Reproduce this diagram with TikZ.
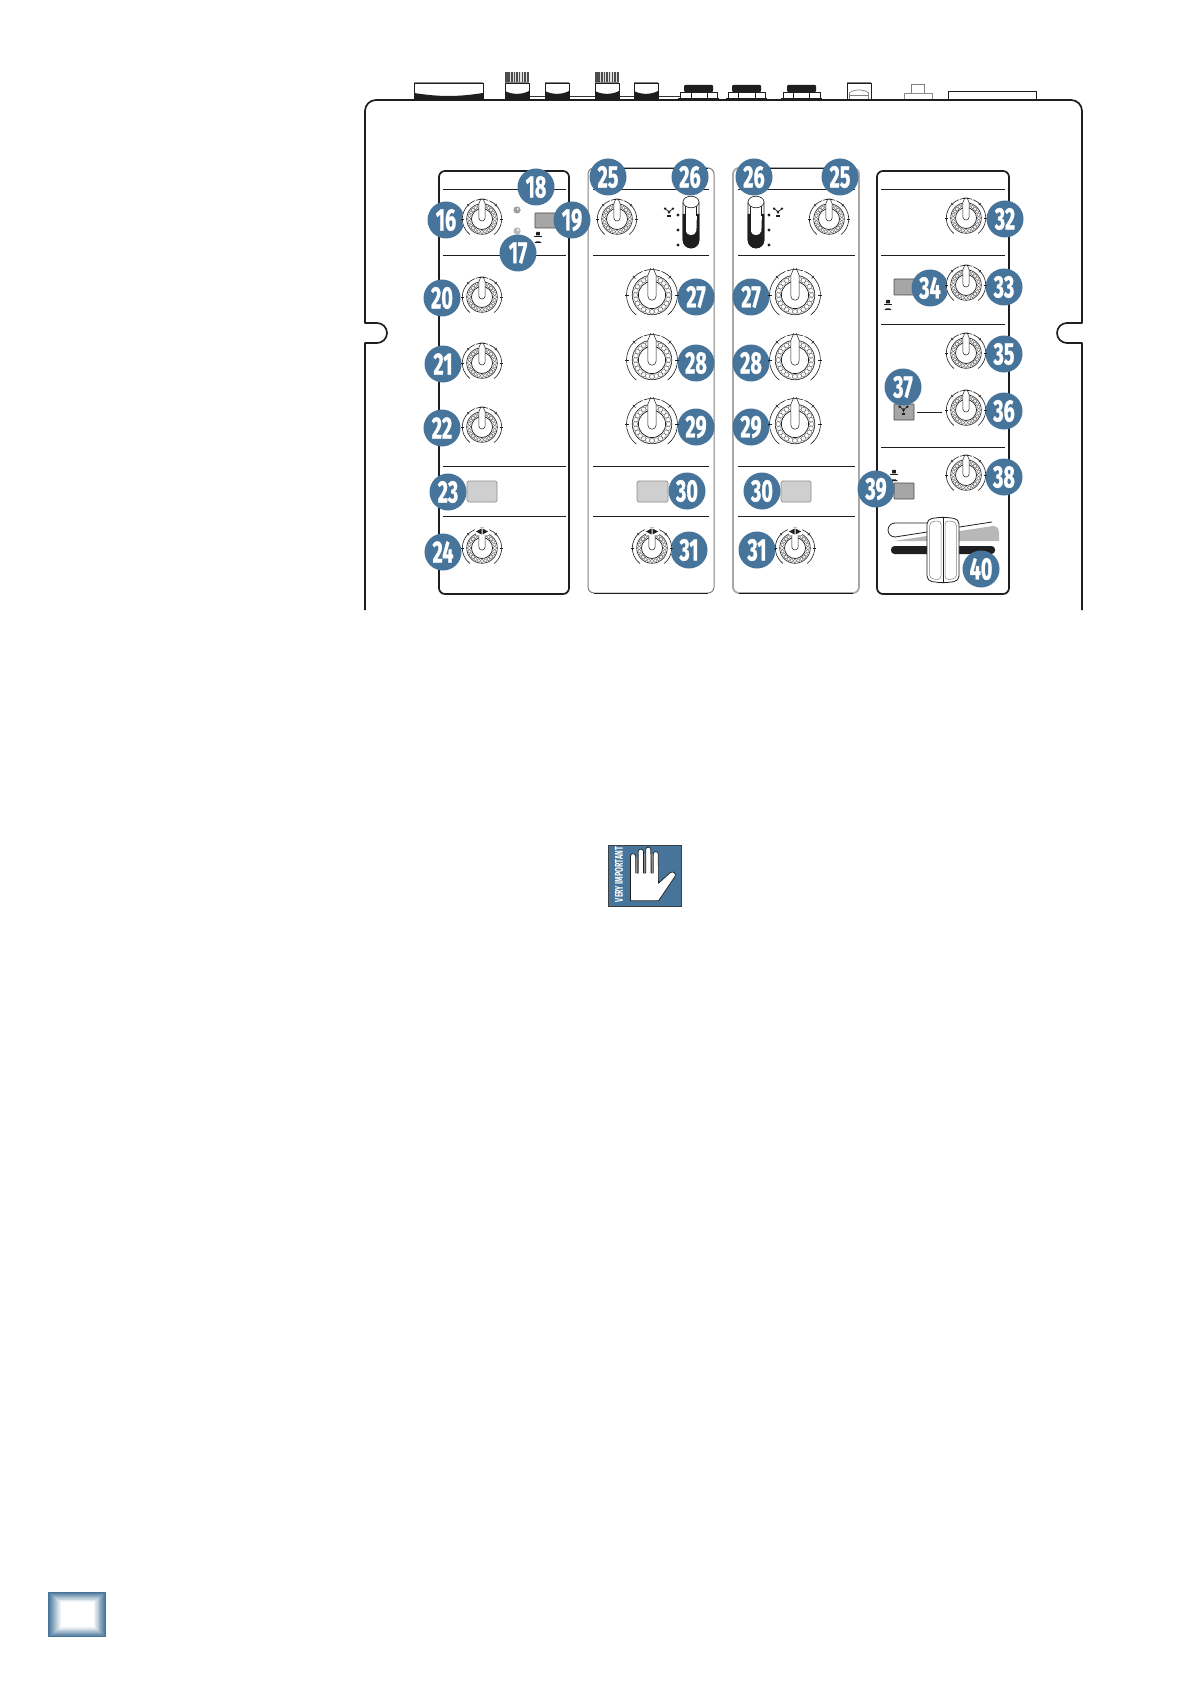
\documentclass[tikz,border=0pt]{standalone}
\usepackage{graphicx}
\usepackage{fontspec}
\setmainfont{Fira Sans}
\newfontfamily\numfont[BoldFeatures={FakeBold=1.2}]{Fira Sans}
\definecolor{blobblue}{HTML}{46749A}
\definecolor{ink}{HTML}{1E1E20}
\definecolor{btndark}{HTML}{A6A6A6}
\definecolor{btnlight}{HTML}{CFCFCF}
\definecolor{edgegrey}{HTML}{A9A9A9}
\tikzset{
  blob/.style={circle,fill=blobblue,text=white,minimum size=37pt,inner sep=0pt,font=\numfont\fontsize{31}{31}\selectfont\bfseries},
  bodyline/.style={draw=ink,line width=1.7pt},
  panelbold/.style={draw=ink,line width=1.7pt,rounded corners=6pt},
  panelgrey/.style={draw=edgegrey,line width=1.8pt,rounded corners=6pt},
  divider/.style={draw=ink,line width=1pt},
  btnd/.style={draw=ink!80,line width=.8pt,fill=btndark,rounded corners=.6pt},
  btnl/.style={draw=black!45,line width=.7pt,fill=btnlight,rounded corners=1.5pt},
  thin ink/.style={draw=ink,line width=.8pt},
}
\newcommand\bl[4]{\node[blob] (b#1) at (#2,#3) {\scalebox{.64}[1]{#4}};}
% knob: x, y, scale, pointer bottom
\newcommand\knob[4]{%
\begin{scope}[shift={(#1,#2)},x=#3pt,y=#3pt]
  \fill[white] (0,0) circle (19.8);
  \draw[ink,line width=.6pt] (-52:19.3) arc[start angle=-52,end angle=68,radius=19.3];
  \draw[ink,line width=.6pt] (72:19.3) arc[start angle=72,end angle=108,radius=19.3];
  \draw[ink,line width=.6pt] (112:19.3) arc[start angle=112,end angle=232,radius=19.3];
  \foreach \a in {0,45,135,180} \draw[ink,line width=.5pt] (\a:17.6) -- (\a:20.6);
  \foreach \a in {0,15,...,345} \draw[ink!70,line width=.35pt] (\a:12.6) circle (1.75);
  \draw[ink,line width=.6pt] (0,0) circle (15);
  \draw[ink,line width=.7pt] (0,0) circle (10.3);
  \fill[white] (-3.1,18) -- (-3.1,#4+3.1) arc[start angle=180,end angle=360,radius=3.1] -- (3.1,18) -- cycle;
  \draw[ink,line width=.5pt] (-.8,20.5) -- (-3.1,15) -- (-3.1,#4+3.1) arc[start angle=180,end angle=360,radius=3.1] -- (3.1,15) -- (.8,20.5);
\end{scope}}
% arrows over the pan knobs
\newcommand\panarrows[2]{%
  \fill[white] (#1-6.5,#2-20) rectangle (#1+6.5,#2-13.5);
  \fill[ink] (#1-.5,#2-13.6) -- (#1-.5,#2-19.4) -- (#1-6.2,#2-16.5) -- cycle;
  \fill[ink] (#1+.5,#2-13.6) -- (#1+.5,#2-19.4) -- (#1+6.2,#2-16.5) -- cycle;}
% Y icon
\newcommand\micicon[3]{%
\begin{scope}[shift={(#1,#2)}]
  \draw[#3,line width=.7pt] (-3.5,-3) -- (0,-.2) -- (3.5,-3) (0,-.2) -- (0,2);
  \fill[#3] (-3.9,-3.3) circle (1.35) (3.9,-3.3) circle (1.35) (0,-.2) circle (1.5);
  \draw[#3,line width=.7pt] (-1.9,3) -- (1.9,3) (-1.9,4.6) -- (1.9,4.6);
\end{scope}}
% pushed / unpushed symbols
\newcommand\pushicon[3]{%
  \fill[ink] (#1-1.7,#2-2.2) -- (#1+1.7,#2-2.2) -- (#1+2,#2+1.4) -- (#1-2,#2+1.4) -- cycle;
  \draw[ink,line width=.7pt] (#1-3.8,#2+2) -- (#1+3.8,#2+2);
  \fill[ink] (#1-3.8,#3+1) -- (#1-1.5,#3-.7) -- (#1+1.5,#3-.7) -- (#1+3.8,#3+1) -- cycle;}
% vertical slider switch
\newcommand\slideswitch[1]{%
\begin{scope}[shift={(#1,0)}]
  \draw[ink,line width=.8pt,fill=white] (-8,202) -- (-8,240) arc[start angle=180,end angle=0,radius=8] -- (8,202);
  \fill[ink] (-8.3,214) -- (-8.3,240) arc[start angle=180,end angle=0,radius=8.3] -- (8.3,214) -- cycle;
  \fill[white] (-5.8,200) -- (-5.8,218) -- (-5.4,231) .. controls (-4,236.5) and (4,236.5) .. (5.4,231) -- (5.8,218) -- (5.8,200) -- cycle;
  \draw[ink,line width=.6pt,fill=white] (0,202) ellipse[x radius=8,y radius=5.8];
  \draw[ink,line width=.45pt] (-5.6,206) -- (-5.6,232) (5.6,206) -- (5.6,216);
\end{scope}}
\newcommand\sdots[1]{\fill[ink] (#1,215) circle (1.6) (#1,230) circle (1.6) (#1,245) circle (1.6);}
\begin{document}
\begin{tikzpicture}[x=1pt,y=-1pt]
\useasboundingbox (0,0) rectangle (1192,1685);
\fill[white] (0,0) rectangle (1192,1685);

% ---- back panel connectors
\draw[ink!90,line width=1pt] (528,96.8) -- (545,96.8) (568,96.8) -- (595,96.8) (619,96.8) -- (634,96.8) (658,96.8) -- (680,96.8);
% big socket
\draw[black!45,line width=1pt] (414,82.3) -- (483,82.3);
\draw[thin ink,fill=white] (414,99) -- (414,83.3) -- (483,83.3) -- (483,99) -- cycle;
\fill[ink] (414,93) .. controls (440,97) and (457,97) .. (483,93) -- (483,99.5) -- (414,99.5) -- cycle;
% RCA / small connectors
\foreach \xa in {505,595} {
  \fill[black!70] (\xa,72) rectangle (\xa+24,83);
  \foreach \s in {5,7.6,10.2,12.8,15.4,18,20.6} \fill[black!12] (\xa+\s,72) rectangle (\xa+\s+1.1,83);
}
\foreach \xa in {505,545,595,634} {
  \draw[black!50,line width=1pt] (\xa,82.4) -- (\xa+24,82.4);
  \draw[thin ink,fill=white] (\xa,99) -- (\xa,83.4) -- (\xa+24,83.4) -- (\xa+24,99) -- cycle;
  \fill[ink] (\xa,91) .. controls (\xa+7,94.8) and (\xa+17,94.8) .. (\xa+24,91) -- (\xa+24,99.5) -- (\xa,99.5) -- cycle;
}
% jacks
\foreach \xa/\da/\db in {678/13/29,726/12/29,781/12/28} {
  \draw[ink,line width=.7pt,fill=white] (\xa+2,92.2) rectangle (\xa+39,98.5);
  \draw[ink,line width=.7pt] (\xa+\da,92.2) -- (\xa+\da,98.5) (\xa+\db,92.2) -- (\xa+\db,98.5);
  \fill[ink,rounded corners=1pt] (\xa+6,85) rectangle (\xa+35,92);
  \fill[ink] (\xa,98.2) rectangle (\xa+41,100.3);
}
% usb type socket
\draw[black!50,line width=1pt] (847,82.6) -- (871,82.6);
\draw[ink,line width=.8pt,fill=white] (847,99) -- (847,83.4) -- (871,83.4) -- (871,99);
\draw[black!50,line width=.7pt] (849.5,99) -- (849.5,93) .. controls (853,89) and (865,89) .. (868.5,93) -- (868.5,99);
\draw[black!50,line width=.7pt] (849.5,95.8) -- (868.5,95.8);
% push button
\draw[black!50,line width=.8pt,fill=white] (911,94) -- (911,84.5) -- (924,84.5) -- (924,94);
\draw[black!45,line width=1pt,fill=white] (904,94) rectangle (932,99.5);
% long slot
\draw[ink,line width=.8pt,fill=white] (948,100) -- (948,91) -- (1036,91) -- (1036,100);

% ---- outline of the unit
\draw[bodyline,line join=round] (365,610) -- (365,343) -- (377,343)
  arc[start angle=90,end angle=-90,radius=10] -- (365,323)
  -- (365,111) arc[start angle=180,end angle=270,radius=11]
  -- (1071,100) arc[start angle=-90,end angle=0,radius=11]
  -- (1082,323) -- (1067,323) arc[start angle=-90,end angle=-270,radius=10]
  -- (1082,343) -- (1082,610);

% ---- panels
\draw[panelbold] (439,171) rectangle (569,594);
\draw[panelbold] (877,171) rectangle (1009,594);
\draw[panelgrey,draw=black!50,line width=1pt] (588,168) rectangle (714,593);
\draw[panelgrey] (733,168) rectangle (859,593);
\foreach \xa/\xb in {594/708,739/853} \draw[ink,line width=.9pt] (\xa,168) -- (\xb,168) (\xa,593) -- (\xb,593);

% ---- dividers
\foreach \y in {190,256,466,516} \draw[divider] (443,\y) -- (566,\y);
\foreach \y in {190,256,466,516} \draw[divider] (593,\y) -- (709,\y);
\foreach \y in {190,256,466,516} \draw[divider] (738,\y) -- (855,\y);
\foreach \y in {190,256,324,447} \draw[divider] (881,\y) -- (1005,\y);

% ---- buttons
\draw[btnd] (535,213) rectangle (557,228);
\draw[btnl] (467,481) rectangle (497,502);
\draw[btnl] (637,481) rectangle (668,502);
\draw[btnl] (781,481) rectangle (811,502);
\draw[btnd] (894,279) rectangle (915,295);
\draw[btnd] (894,404) rectangle (914,420);
\draw[btnd] (894,483) rectangle (914,499);
\micicon{903.5}{410}{ink}
\draw[ink,line width=.9pt] (917,412) -- (942,412);

% ---- LEDs
\fill[black!38] (517,210) circle (3.6);
\fill[black!8] (517.8,209) circle (1.1);
\fill[black!28] (517,231) circle (3.6);
\fill[black!5] (517.8,230) circle (1.2);

% ---- small symbols
\pushicon{538}{234}{242}
\pushicon{888}{302}{309}
\pushicon{894}{472}{480}
\micicon{669}{212}{ink}
\micicon{778}{212}{ink}
\sdots{678}
\sdots{769}
\slideswitch{691}
\slideswitch{756}

% ---- fader
\fill[black!28] (894,541) -- (993,526) .. controls (997,526) and (999,529) .. (999,533) -- (999,541) -- cycle;
\draw[ink,line width=.8pt,fill=white] (940,523) -- (895,523) arc[start angle=-90,end angle=-270,radius=7] -- (940,530) -- (992,522);
\fill[ink,rounded corners=3.5pt] (891,546) rectangle (995,554);
\draw[ink,line width=.8pt,fill=white,rounded corners=5pt] (927,519) -- (943,517) -- (959,519) -- (959,581) -- (943,583) -- (927,581) -- cycle;
\draw[black!50,line width=.5pt,rounded corners=4pt] (929.5,522) -- (941,520.5) -- (941,580) -- (929.5,578.5) -- cycle;
\draw[black!50,line width=.5pt,rounded corners=4pt] (956.5,522) -- (945,520.5) -- (945,580) -- (956.5,578.5) -- cycle;
\draw[ink,line width=.8pt] (943,517) -- (943,583);

% ---- numbered markers
\bl{16}{446}{220}{16}
\bl{17}{518}{253}{17}
\bl{18}{536}{187}{18}
\bl{19}{572}{220}{19}
\bl{20}{442}{298}{20}
\bl{21}{443}{364}{21}
\bl{22}{442}{428}{22}
\bl{23}{448}{492}{23}
\bl{24}{443}{552}{24}
\bl{25a}{608}{177}{25}
\bl{26a}{690}{177}{26}
\bl{27a}{696}{297}{27}
\bl{28a}{696}{363}{28}
\bl{29a}{696}{427}{29}
\bl{30a}{687}{491}{30}
\bl{31a}{689}{550}{31}
\bl{26b}{754}{177}{26}
\bl{25b}{840}{177}{25}
\bl{27b}{751}{297}{27}
\bl{28b}{751}{363}{28}
\bl{29b}{751}{427}{29}
\bl{30b}{762}{491}{30}
\bl{31b}{757}{550}{31}
\bl{32}{1005}{219}{32}
\bl{33}{1004}{287}{33}
\bl{34}{930}{288}{34}
\bl{35}{1004}{354}{35}
\bl{36}{1004}{411}{36}
\bl{37}{903}{387}{37}
\bl{38}{1004}{477}{38}
\bl{39}{876}{489}{39}
\bl{40}{981}{569}{40}

% ---- knobs
\knob{482}{219}{1.02}{-2}
\knob{482}{297}{1.02}{-2}
\knob{482}{363}{1.02}{-2}
\knob{482}{427}{1.02}{-2}
\knob{482}{548}{1.02}{-2}
\panarrows{482}{548}
\knob{617}{219}{1.02}{-2}
\knob{652}{295}{1.32}{-4}
\knob{652}{360}{1.32}{-4}
\knob{652}{424}{1.32}{-4}
\knob{652}{548}{1.02}{-2}
\panarrows{652}{548}
\knob{829}{219}{1.02}{-2}
\knob{795}{295}{1.32}{-4}
\knob{795}{360}{1.32}{-4}
\knob{795}{424}{1.32}{-4}
\knob{795}{548}{1.02}{-2}
\panarrows{795}{548}
\knob{966}{218}{1.02}{-2}
\knob{966}{285}{1.02}{-2}
\knob{966}{353}{1.02}{-2}
\knob{966}{410}{1.02}{-2}
\knob{966}{475}{1.02}{-2}

% ---- very important hand
\draw[fill=blobblue,draw=ink!85,line width=1pt] (608,845.5) rectangle (681,906);
\draw[fill=white,draw=ink,line width=.7pt,line join=round]
  (630.5,900.8) -- (630.5,856) .. controls (630.5,853) and (635.6,853) .. (635.6,856) -- (635.8,873)
  -- (638.2,873) -- (638.2,851.5) .. controls (638.2,848.4) and (643.4,848.4) .. (643.4,851.5) -- (643.5,873)
  -- (645.7,873) -- (645.7,849.5) .. controls (645.7,846.4) and (650.8,846.4) .. (650.8,849.5) -- (651,873)
  -- (653.2,873) -- (653.2,854) .. controls (653.2,850.9) and (658.3,850.9) .. (658.3,854)
  -- (658.4,883.3) -- (670,872.8) .. controls (672.5,870.5) and (677,873.5) .. (675,876.5) -- (658.5,900.8) -- cycle;
\draw[black!45,line width=1pt] (636.6,858) -- (636.6,873) (644.4,854) -- (644.4,873) (652,854) -- (652,873);
\node[rotate=90,inner sep=0pt,text=white,font=\bfseries] (vi) at (619,874.5) {\resizebox{55pt}{8pt}{VERY IMPORTANT}};

% ---- page tab
\foreach \i in {0,...,13} {
  \pgfmathsetmacro{\p}{100-100*\i/13}
  \fill[blobblue!\p!white] (48+\i,1592+.75*\i) rectangle (106-\i*.93,1637-.75*\i);
}
\fill[white] (62,1602) rectangle (93,1627);
\fill[blobblue] (105,1592) rectangle (106,1637);
\end{tikzpicture}
\end{document}
